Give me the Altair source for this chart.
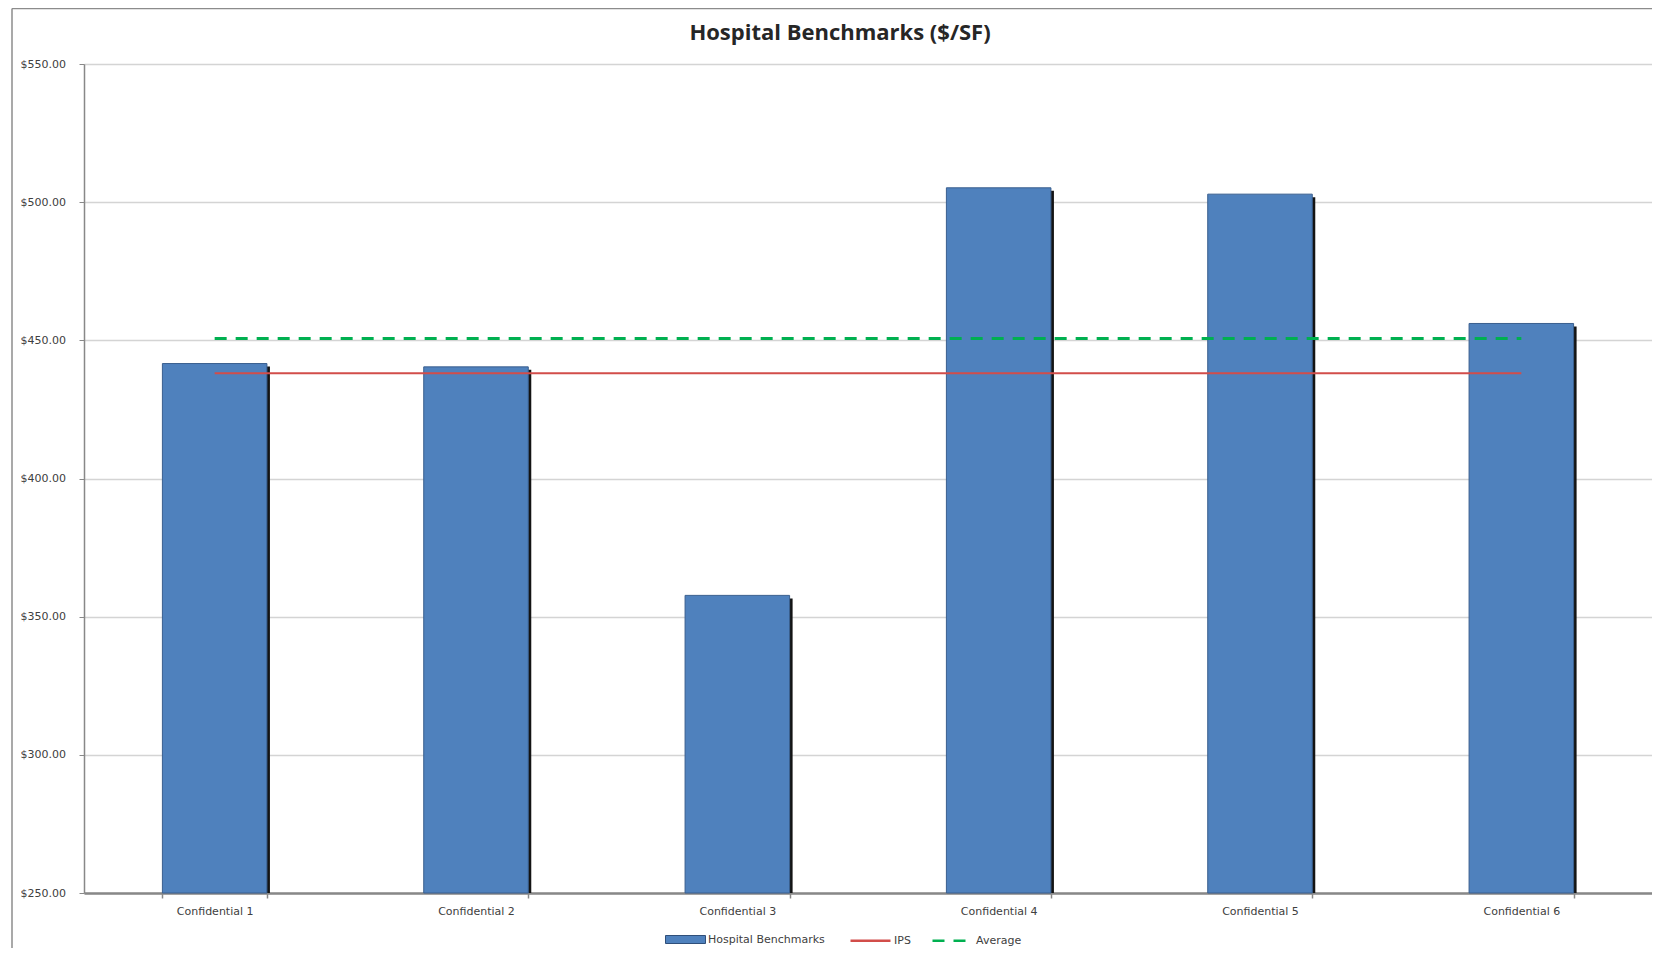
import altair as alt
import pandas as pd

categories = ["Confidential 1", "Confidential 2", "Confidential 3",
              "Confidential 4", "Confidential 5", "Confidential 6"]
benchmark_values = [441.6, 440.4, 357.7, 505.2, 502.9, 456.1]
ips_value = 438.1
average_value = 450.7
y_ticks = [250, 300, 350, 400, 450, 500, 550]

bars_df = pd.DataFrame({"category": categories, "value": benchmark_values,
                        "series": ["Hospital Benchmarks"] * len(categories)})
lines_df = pd.DataFrame({
    "category": categories * 2,
    "value": [ips_value] * len(categories) + [average_value] * len(categories),
    "series": ["IPS"] * len(categories) + ["Average"] * len(categories),
})

FONT = "DejaVu Sans"
TITLE_FONT = "Open Sans"
W, H = 1568, 829

x_enc = alt.X("category:N", sort=categories, title=None,
              scale=alt.Scale(paddingInner=0.6, paddingOuter=0.3),
              axis=alt.Axis(tickBand="extent", tickSize=5, tickColor="#888888",
                            tickWidth=1.5, domainColor="#888888", domainWidth=2.5,
                            labelAngle=0, labelPadding=7, labelFontSize=11,
                            labelColor="#404040", labelFont=FONT, grid=False))
y_enc = alt.Y("value:Q", title=None,
              scale=alt.Scale(domain=[250, 550], nice=False, zero=False),
              axis=alt.Axis(values=y_ticks, format="$,.2f", tickSize=5,
                            tickColor="#888888", domainColor="#888888",
                            domainWidth=1.5, labelAlign="left", labelPadding=59,
                            labelBaseline="middle", labelFontSize=11,
                            labelColor="#404040", labelFont=FONT,
                            grid=True, gridColor="#D4D4D4", gridWidth=1.5))

shadow = alt.Chart(bars_df).mark_bar(color="#141414", xOffset=3, yOffset=3, clip=True).encode(
    x=x_enc, y=y_enc, y2=alt.datum(250))

bars = alt.Chart(bars_df).mark_bar(stroke="#3A5F8F", strokeWidth=1).encode(
    x=x_enc, y=y_enc, y2=alt.datum(250),
    fill=alt.Fill("series:N", scale=alt.Scale(domain=["Hospital Benchmarks"], range=["#4F81BD"]),
                  legend=alt.Legend(title=None, orient="none", legendX=581, legendY=855,
                                    symbolType="M-1,-0.2H1V0.2H-1Z", symbolSize=1600,
                                    symbolStrokeColor="#2F4F7A", symbolStrokeWidth=1,
                                    labelFontSize=11, labelFont=FONT, labelColor="#404040",
                                    labelOffset=2)))

stroke_scale = alt.Scale(domain=["IPS", "Average"], range=["#D24D4A", "#00B050"])
dash_scale = alt.Scale(domain=["IPS", "Average"], range=[[1, 0], [12, 9]])
line_legend = alt.Legend(title=None, orient="none", legendX=765, legendY=855,
                         direction="horizontal", symbolType="stroke", symbolSize=1600,
                         symbolStrokeWidth=2.5, labelFontSize=11, labelFont=FONT,
                         labelColor="#404040", labelOffset=2, columnPadding=16)

ips = alt.Chart(lines_df).transform_filter(alt.datum.series == "IPS").mark_line(strokeWidth=2).encode(
    x=x_enc, y=y_enc,
    stroke=alt.Stroke("series:N", scale=stroke_scale, legend=line_legend),
    strokeDash=alt.StrokeDash("series:N", scale=dash_scale, legend=line_legend))

avg = alt.Chart(lines_df).transform_filter(alt.datum.series == "Average").mark_line(strokeWidth=3).encode(
    x=x_enc, y=y_enc,
    stroke=alt.Stroke("series:N", scale=stroke_scale, legend=line_legend),
    strokeDash=alt.StrokeDash("series:N", scale=dash_scale, legend=line_legend))

frame_df = pd.DataFrame({"k": [0]})
frame_left = alt.Chart(frame_df).mark_rule(color="#8C8C8C", strokeWidth=1.5).encode(
    x=alt.value(-72), y=alt.value(-55.5), y2=alt.value(H + 55))
frame_top = alt.Chart(frame_df).mark_rule(color="#8C8C8C", strokeWidth=1.5).encode(
    x=alt.value(-72), x2=alt.value(W), y=alt.value(-55.5))

chart = alt.layer(frame_left, frame_top, shadow, bars, ips, avg).properties(
    width=W, height=H,
    title=alt.TitleParams("Hospital Benchmarks ($/SF)", font=TITLE_FONT, fontSize=22,
                          fontWeight="bold", color="#262626", anchor="middle",
                          baseline="bottom", dx=-28, offset=-59),
    autosize=alt.AutoSizeParams(type="none"),
    padding={"left": 76, "top": 56, "right": 0, "bottom": 55},
).configure_view(stroke=None).configure(background="white")

chart.save("out.html", embed_options={"renderer": "svg", "actions": False})
